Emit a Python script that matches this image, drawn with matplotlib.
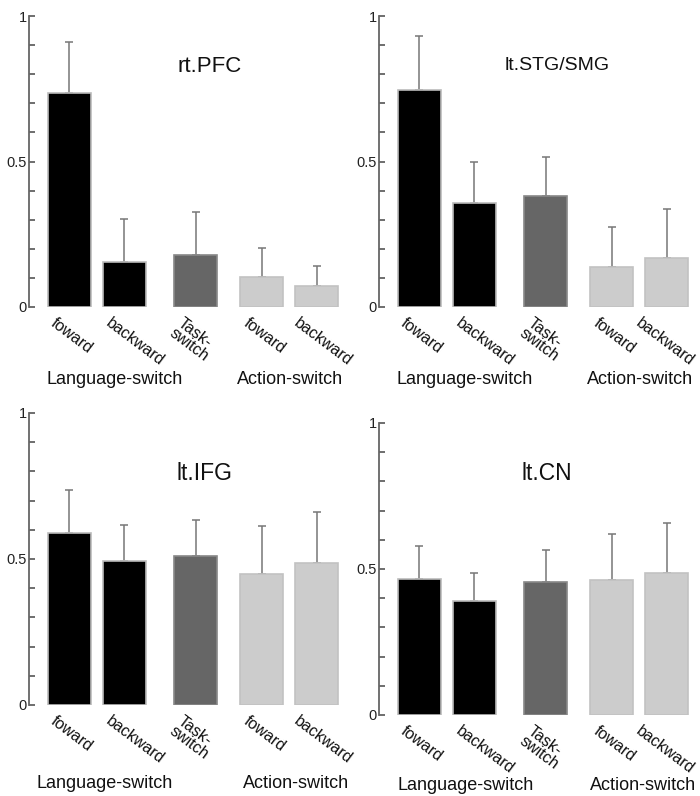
import matplotlib
matplotlib.use("Agg")
import matplotlib.pyplot as plt

plt.rcParams['font.family'] = ['Liberation Sans', 'DejaVu Sans']

# ---- data ----
bar_labels = ["foward", "backward", "Task-\nswitch", "foward", "backward"]
group_labels = ["Language-switch", "Action-switch"]
titles = ["rt.PFC", "lt.STG/SMG", "lt.IFG", "lt.CN"]

pfc_means = [0.735, 0.156, 0.177, 0.103, 0.073]
pfc_err = [0.177, 0.147, 0.148, 0.100, 0.067]

stg_means = [0.746, 0.356, 0.383, 0.138, 0.169]
stg_err = [0.185, 0.144, 0.132, 0.137, 0.169]

ifg_means = [0.589, 0.494, 0.509, 0.449, 0.485]
ifg_err = [0.146, 0.124, 0.125, 0.165, 0.177]

cn_means = [0.465, 0.390, 0.457, 0.461, 0.488]
cn_err = [0.114, 0.096, 0.108, 0.160, 0.169]

means_all = [pfc_means, stg_means, ifg_means, cn_means]
errs_all = [pfc_err, stg_err, ifg_err, cn_err]

# ---- layout ----
positions = [0, 1, 2.3, 3.5, 4.5]
fill_colors = ["#000000", "#000000", "#666666", "#cccccc", "#cccccc"]
edge_colors = ["#bbbbbb", "#bbbbbb", "#888888", "#c2c2c2", "#c2c2c2"]

W, H = 700, 796
fig = plt.figure(figsize=(W / 100, H / 100), dpi=100)

px_per_unit = 55.0
# (axis x px, axis bottom px, axis top px, xmax)
panels = [
    (29, 307, 16, 5.02),
    (379, 307, 16, 5.10),
    (29, 705, 413, 5.02),
    (379, 715, 423, 5.10),
]
title_pos = [(210, 66), (557, 66), (205, 473), (547, 474)]
title_sizes = [16, 14, 16.5, 16.5]
group_x = [(0.82, 4.02), (0.82, 4.02), (0.65, 4.12), (0.85, 4.07)]
group_dy = [73, 73, 78, 70]
label_shift_left = [-0.22, -0.22, -0.22, -0.22, -0.3]
label_shift_right = [-0.22, -0.22, -0.22, -0.22, -0.45]

xmin = -0.73
for i, (ax_x, ax_b, ax_t, xmax) in enumerate(panels):
    width_px = (xmax - xmin) * px_per_unit
    ax = fig.add_axes([ax_x / W, 1 - ax_b / H, width_px / W, (ax_b - ax_t) / H])
    ax.set_xlim(xmin, xmax)
    ax.set_ylim(0, 1)
    ax.bar(positions, means_all[i], width=0.78, color=fill_colors,
           edgecolor=edge_colors, linewidth=1.2, zorder=2)
    ax.errorbar(positions, means_all[i],
                yerr=[[0] * 5, errs_all[i]], fmt='none',
                ecolor="#777777", elinewidth=1.1, capsize=2.9, capthick=1.1,
                zorder=1)
    for s in ["top", "right", "bottom"]:
        ax.spines[s].set_visible(False)
    ax.spines["left"].set_color("#666666")
    ax.spines["left"].set_linewidth(1.3)
    ax.set_xticks([])
    ax.set_yticks([0, 0.5, 1])
    ax.set_yticklabels(["0", "0.5", "1"])
    ax.set_yticks([k / 10 for k in range(1, 10) if k != 5], minor=True)
    ax.tick_params(axis='y', which='both', direction='in', length=4,
                   width=1.2, color="#555555", labelsize=10.5, pad=1.5)
    for lbl in ax.get_yticklabels():
        lbl.set_color("#222222")
    ax.patch.set_alpha(0)

    # rotated category labels
    h_px = ax_b - ax_t
    shifts = label_shift_right if i % 2 == 1 else label_shift_left
    for p, lab, sh in zip(positions, bar_labels, shifts):
        ax.text(p + sh, -8 / h_px, lab, transform=ax.get_xaxis_transform(),
                rotation=-37, rotation_mode='anchor', ha='left', va='top',
                fontsize=11.5, linespacing=0.85, color="#111111")
    # group labels
    for gx, glab in zip(group_x[i], group_labels):
        ax.text(gx, -group_dy[i] / h_px, glab, transform=ax.get_xaxis_transform(),
                ha='center', va='center', fontsize=13, color="#111111")
    # title
    tx, ty = title_pos[i]
    fig.text(tx / W, 1 - ty / H, titles[i], ha='center', va='center',
             fontsize=title_sizes[i], color="#111111")

fig.savefig("out.png", dpi=100)
